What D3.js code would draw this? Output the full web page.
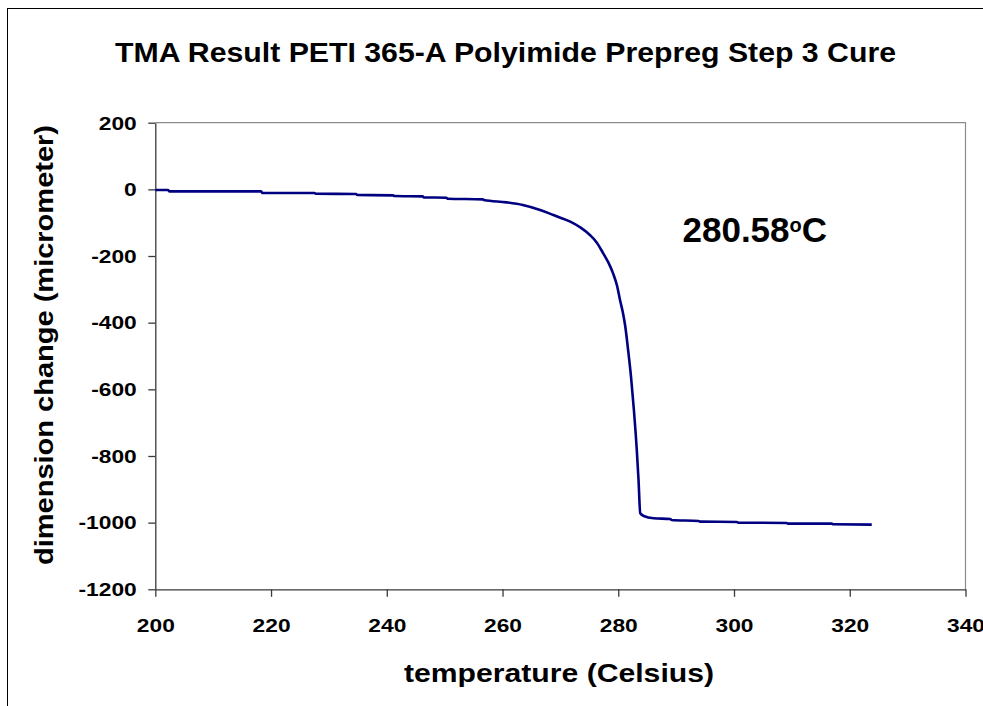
<!DOCTYPE html>
<html>
<head>
<meta charset="utf-8">
<script src="https://cdn.jsdelivr.net/npm/d3@7"></script>
<style>
  body { margin: 0; background: #fff; }
  text { font-family: "Liberation Sans", Arial, sans-serif; font-weight: bold; fill: #000; }
</style>
</head>
<body>
<script>
// temperature (Celsius)
const temperature = [
  200.0, 202.2, 202.4, 218.3, 218.5, 227.5, 227.7, 234.7, 234.9, 241.1,
  241.3, 246.2, 246.4, 250.3, 250.5, 256.6, 256.8, 260.7, 263.5, 266.5,
  268.5, 270.0, 271.7, 273.5, 275.1, 276.3, 277.4, 278.3, 279.1, 279.8,
  280.3, 280.8, 281.2, 281.7, 282.2, 282.7, 283.2, 283.5, 283.8, 284.4,
  286.1, 289.0, 289.2, 293.9, 294.1, 300.5, 300.7, 309.1, 309.3, 316.9,
  317.1, 323.8
];
// dimension change (micrometer)
const dimensionChange = [
  -2, -2, -6, -6, -11, -11, -13, -14, -17, -18,
  -20, -21, -24, -25, -28, -30, -32, -39, -47, -62,
  -75, -85, -97, -115, -137, -160, -192, -220, -252, -290,
  -332, -370, -410, -482, -562, -662, -782, -872, -972, -980,
  -987, -989, -992, -995, -997, -998, -1000, -1001, -1003, -1003,
  -1005, -1006
];

const xTicks = [200, 220, 240, 260, 280, 300, 320, 340];
const yTicks = [200, 0, -200, -400, -600, -800, -1000, -1200];

const titleText = 'TMA Result PETI 365-A Polyimide Prepreg Step 3 Cure';
const xLabel = 'temperature (Celsius)';
const yLabel = 'dimension change (micrometer)';
const noteValue = '280.58';

let width = 983;
let height = 706;
let margin = { top: 122.7, left: 155.3, right: 17.5, bottom: 116.7 };
let plotW = width - margin.left - margin.right;
let plotH = height - margin.top - margin.bottom;

const svg = d3.select('body').append('svg')
    .attr('width', width)
    .attr('height', height);

// outer chart frame (runs off the right and bottom edges)
svg.append('rect')
    .attr('x', 7.5).attr('y', 8.5)
    .attr('width', 1200).attr('height', 1200)
    .attr('fill', 'none')
    .attr('stroke', '#000')
    .attr('stroke-width', 1);

svg.append('text')
    .attr('x', 115).attr('y', 62)
    .attr('font-size', 28)
    .attr('textLength', 781)
    .attr('lengthAdjust', 'spacingAndGlyphs')
    .text(titleText);

const g = svg.append('g')
    .attr('transform', 'translate(' + margin.left + ',' + margin.top + ')');

let x = d3.scaleLinear().domain([200, 340]).range([0, plotW]);
let y = d3.scaleLinear().domain([-1200, 200]).range([plotH, 0]);

// plot area border (top and right)
g.append('path')
    .attr('d', 'M0,0H' + plotW + 'V' + plotH)
    .attr('fill', 'none')
    .attr('stroke', '#8c8c8c')
    .attr('stroke-width', 1.2);

// stretch tick labels a little wider, like the original
const widen = (sel, k) => sel.each(function () {
  let len = this.getComputedTextLength();
  d3.select(this).attr('textLength', len * k).attr('lengthAdjust', 'spacingAndGlyphs');
});

// plain hyphen for negatives, as in the original
const fmt = d => String(d);

let xAxis = g.append('g')
    .attr('transform', 'translate(0,' + plotH + ')')
    .call(d3.axisBottom(x).tickValues(xTicks).tickSize(7.5).tickSizeOuter(0).tickFormat(fmt));
xAxis.selectAll('text')
    .attr('font-size', 17.5)
    .attr('y', 43).attr('dy', 0)
    .call(widen, 1.3);

let yAxis = g.append('g')
    .call(d3.axisLeft(y).tickValues(yTicks).tickSize(7).tickSizeOuter(0).tickPadding(11.6).tickFormat(fmt));
yAxis.selectAll('text')
    .attr('font-size', 17.5)
    .attr('dy', '0.36em')
    .call(widen, 1.3);

xAxis.attr('font-family', null);
yAxis.attr('font-family', null);
g.selectAll('.domain, .tick line')
    .attr('stroke', '#3a3a3a')
    .attr('stroke-width', 1.3);
g.selectAll('.tick text').attr('fill', '#000');

let points = temperature.map((t, i) => [t, dimensionChange[i]]);

g.append('path')
    .datum(points)
    .attr('fill', 'none')
    .attr('stroke', '#000080')
    .attr('stroke-width', 2.6)
    .attr('stroke-linejoin', 'round')
    .attr('d', d3.line().curve(d3.curveMonotoneX).x(d => x(d[0])).y(d => y(d[1])));

// onset temperature note
let note = svg.append('text')
    .attr('x', 682.5).attr('y', 241.5)
    .attr('font-size', 35);
note.append('tspan').text(noteValue);
note.append('tspan').attr('font-size', 20).attr('dy', -10).text('o');
note.append('tspan').attr('dy', 10).text('C');

svg.append('text')
    .attr('x', 404).attr('y', 682)
    .attr('font-size', 25)
    .attr('textLength', 310)
    .attr('lengthAdjust', 'spacingAndGlyphs')
    .text(xLabel);

svg.append('text')
    .attr('transform', 'translate(53,565) rotate(-90)')
    .attr('font-size', 25)
    .attr('textLength', 440)
    .attr('lengthAdjust', 'spacingAndGlyphs')
    .text(yLabel);
</script>
</body>
</html>
